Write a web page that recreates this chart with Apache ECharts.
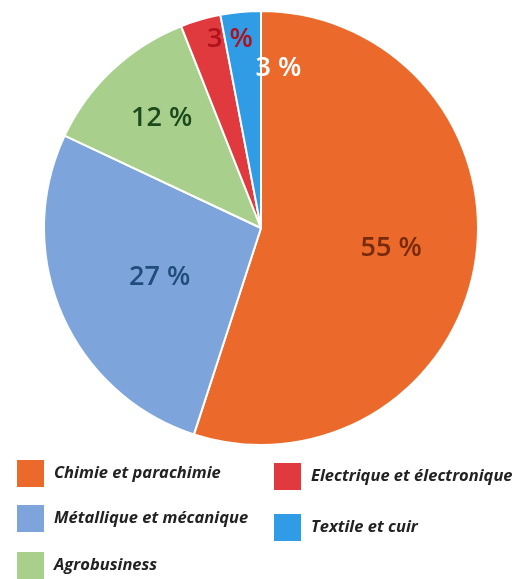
<!DOCTYPE html>
<html><head><meta charset="utf-8">
<script src="https://cdn.jsdelivr.net/npm/echarts@6/dist/echarts.min.js"></script>
<style>html,body{margin:0;padding:0;background:#fff}#c{width:513px;height:579px}</style>
</head><body><div id="c"></div>
<script>
const categories = ["Chimie et parachimie", "Métallique et mécanique", "Agrobusiness", "Electrique et électronique", "Textile et cuir"];
const values = [55, 27, 12, 3, 3];
const sliceColors = ["#EB6A2B", "#7EA5DB", "#A8CF8C", "#E03A3F", "#2F9CE5"];
const labelColors = ["#7A2A0C", "#1F4E7A", "#1C4A1C", "#B0121C", "#FFFFFF"];
const labelShift = [[20, 3], [1, 5], [-23, -28], [0, -82], [28, -49]];
const legendSpots = [[15, 458], [15, 503], [15, 550], [272, 461], [272, 512]];

const legendText = { fontFamily: 'Open Sans', fontStyle: 'italic', fontWeight: 'bold', fontSize: 16.5, color: '#222', padding: [0, 0, 0, 4] };
const chart = echarts.init(document.getElementById('c'));
chart.setOption({
  animation: false,
  legend: categories.map((n, i) => ({
    data: [n], left: legendSpots[i][0], top: legendSpots[i][1], padding: 0,
    icon: 'rect', itemWidth: 29, itemHeight: 29, textStyle: legendText
  })),
  series: [{
    type: 'pie',
    center: [261, 228],
    radius: 217,
    startAngle: 90,
    clockwise: true,
    avoidLabelOverlap: false,
    itemStyle: { borderColor: '#fff', borderWidth: 2 },
    label: {
      position: 'inside',
      formatter: p => p.value + ' %',
      fontFamily: 'Open Sans', fontWeight: 600, fontSize: 27
    },
    labelLine: { show: false },
    labelLayout: p => ({ dx: labelShift[p.dataIndex][0], dy: labelShift[p.dataIndex][1] }),
    emphasis: { disabled: true },
    data: categories.map((n, i) => ({
      name: n, value: values[i],
      itemStyle: { color: sliceColors[i] },
      label: { color: labelColors[i] }
    }))
  }]
});
</script></body></html>
